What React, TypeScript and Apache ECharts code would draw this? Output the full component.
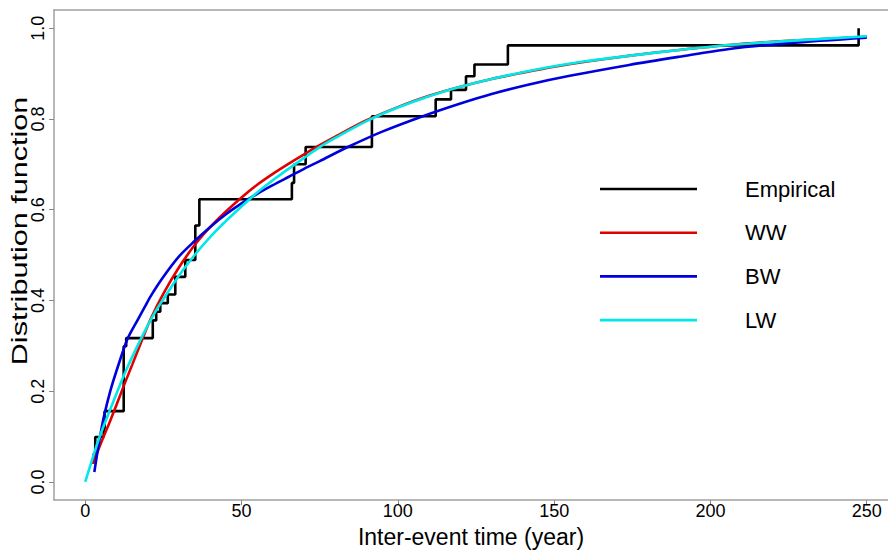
import React, { useEffect, useRef } from "react";
import * as echarts from "echarts";

// Empirical distribution function (step points: time, level)
const EMP_T = [1.9, 2.7, 3.2, 5.9, 6.2, 12.3, 13.1, 21.6, 22.7, 24.0, 26.4, 28.8, 32.0, 35.2, 36.5, 66.1, 66.8, 70.5, 91.7, 112.1, 117.0, 121.8, 124.5, 135.2, 247.4];
const EMP_F = [0.043, 0.062, 0.099, 0.118, 0.156, 0.299, 0.317, 0.356, 0.375, 0.394, 0.413, 0.452, 0.489, 0.565, 0.623, 0.659, 0.700, 0.738, 0.806, 0.843, 0.864, 0.894, 0.920, 0.962, 1.0];

// WW fit (red)
const WW_T = [2.5, 5, 8, 10, 12.5, 15, 18, 21, 25, 30, 35, 40, 45, 50, 55, 60, 65, 70, 75, 80, 90, 100, 110, 120, 130, 140, 150, 160, 175, 190, 206, 225, 250];
const WW_F = [0.04, 0.085, 0.135, 0.17, 0.215, 0.258, 0.31, 0.36, 0.415, 0.473, 0.522, 0.562, 0.596, 0.627, 0.655, 0.679, 0.701, 0.722, 0.742, 0.761, 0.797, 0.826, 0.851, 0.871, 0.888, 0.902, 0.915, 0.926, 0.94, 0.952, 0.963, 0.972, 0.981];

// BW fit (blue)
const BW_T = [2.9, 4, 5, 6, 8, 10, 13.5, 17, 19, 21, 25, 30, 35, 40, 45, 50, 55, 60, 65, 70, 75, 84, 95, 108, 120, 130, 142, 155, 174, 190, 206, 225, 250];
const BW_F = [0.022, 0.07, 0.11, 0.145, 0.2, 0.245, 0.315, 0.36, 0.385, 0.41, 0.452, 0.497, 0.531, 0.562, 0.59, 0.614, 0.635, 0.654, 0.672, 0.69, 0.707, 0.738, 0.772, 0.806, 0.834, 0.855, 0.876, 0.895, 0.919, 0.937, 0.954, 0.967, 0.979];

// LW fit (cyan)
const LW_T = [0, 2, 4, 6, 8, 10, 13, 16, 20, 22, 25, 30, 35, 40, 45, 50, 55, 60, 65, 70, 75, 80, 90, 100, 110, 120, 130, 140, 150, 160, 175, 190, 206, 225, 250];
const LW_F = [0, 0.045, 0.088, 0.125, 0.16, 0.195, 0.245, 0.29, 0.345, 0.37, 0.403, 0.455, 0.5, 0.54, 0.575, 0.607, 0.638, 0.665, 0.69, 0.714, 0.738, 0.758, 0.795, 0.825, 0.85, 0.871, 0.888, 0.903, 0.916, 0.927, 0.94, 0.952, 0.963, 0.972, 0.982];

const X_TICKS = [0, 50, 100, 150, 200, 250];
const Y_TICKS = [0, 0.2, 0.4, 0.6, 0.8, 1.0];
const SERIES_NAMES = ["Empirical", "WW", "BW", "LW"];
const X_TITLE = "Inter-event time (year)";
const Y_TITLE = "Distribution function";

const FONT = '"Liberation Sans", Arial, sans-serif';
const FRAME = "#a0a0a0";
const X_MIN = -10;
const X_MAX = 256.8;

const zip = (t: number[], f: number[]) => t.map((v, i) => [v, f[i]]);

export default function App() {
  const ref = useRef<HTMLDivElement>(null);
  useEffect(() => {
    if (!ref.current) return;
    const chart = echarts.init(ref.current, null, { renderer: "svg" });
    const lineSeries = (name: string, data: number[][], color: string, extra: any = {}) => ({
      name,
      type: "line",
      data,
      symbol: "none",
      showSymbol: false,
      lineStyle: { color, width: 2.6 },
      itemStyle: { color },
      clip: true,
      ...extra,
    });
    chart.setOption({
      animation: false,
      backgroundColor: "#ffffff",
      textStyle: { fontFamily: FONT },
      grid: { left: 54, top: 10, right: 0, bottom: 36, show: false },
      xAxis: [
        {
          type: "value",
          min: X_MIN,
          max: X_MAX,
          position: "bottom",
          axisLine: { show: true, onZero: false, lineStyle: { color: FRAME, width: 1.5 } },
          splitLine: { show: false },
          axisTick: { show: true, length: 5, lineStyle: { color: "#888", width: 1 }, customValues: X_TICKS },
          axisLabel: { customValues: X_TICKS, fontSize: 18, color: "#000", margin: 2 },
          name: X_TITLE,
          nameLocation: "middle",
          nameGap: 22,
          nameTextStyle: { fontSize: 23, color: "#000", fontFamily: FONT, verticalAlign: "top" },
        },
        {
          type: "value",
          min: X_MIN,
          max: X_MAX,
          position: "top",
          axisLine: { show: true, onZero: false, lineStyle: { color: FRAME, width: 1.5 } },
          splitLine: { show: false },
          axisTick: { show: false },
          axisLabel: { show: false },
        },
      ],
      yAxis: {
        type: "value",
        min: -0.04,
        max: 1.04,
        axisLine: { show: true, onZero: false, lineStyle: { color: FRAME, width: 1.5 } },
        splitLine: { show: false },
        axisTick: { show: true, length: 5, lineStyle: { color: "#888", width: 1 }, customValues: Y_TICKS },
        axisLabel: {
          customValues: Y_TICKS,
          rotate: 90,
          fontSize: 18,
          color: "#000",
          margin: 7,
          formatter: (v: number) => v.toFixed(1),
        },
      },
      legend: {
        orient: "vertical",
        left: 600,
        top: 177,
        padding: 0,
        icon: "rect",
        itemWidth: 97,
        itemHeight: 2.6,
        itemGap: 19.7,
        data: SERIES_NAMES,
        textStyle: { fontSize: 22, lineHeight: 24, color: "#000", fontFamily: FONT, padding: [0, 0, 0, 43] },
      },
      graphic: [
        {
          type: "text",
          x: 20,
          y: 231,
          rotation: Math.PI / 2,
          scaleX: 1.39,
          style: {
            text: Y_TITLE,
            fontSize: 22,
            fontFamily: FONT,
            fill: "#000",
            align: "center",
            verticalAlign: "middle",
          },
        },
      ],
      series: [
        lineSeries(SERIES_NAMES[0], zip(EMP_T, EMP_F), "#000000", { step: "end" }),
        lineSeries(SERIES_NAMES[1], zip(WW_T, WW_F), "#e00000", { smooth: 0.3 }),
        lineSeries(SERIES_NAMES[2], zip(BW_T, BW_F), "#0000dd", { smooth: 0.3 }),
        lineSeries(SERIES_NAMES[3], zip(LW_T, LW_F), "#00e8e8", { smooth: 0.3 }),
      ],
    });
    return () => chart.dispose();
  }, []);
  return <div ref={ref} style={{ position: "absolute", left: 0, top: 0, width: 888, height: 553 }} />;
}
